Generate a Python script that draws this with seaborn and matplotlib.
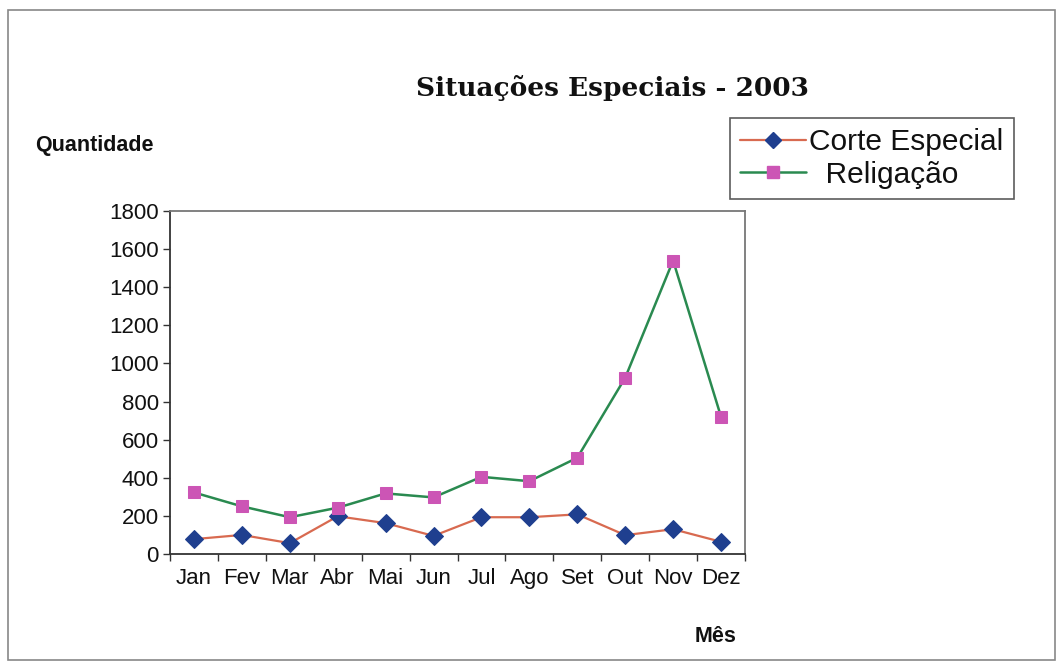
import matplotlib
matplotlib.use("Agg")
import matplotlib.pyplot as plt
from matplotlib.lines import Line2D
from matplotlib.patches import Rectangle
import numpy as np
import pandas as pd
import seaborn as sns

months = ["Jan", "Fev", "Mar", "Abr", "Mai", "Jun", "Jul", "Ago", "Set", "Out", "Nov", "Dez"]
corte_especial = [78, 100, 57, 198, 162, 95, 193, 193, 208, 99, 130, 64]
religacao = [323, 250, 193, 243, 318, 297, 405, 382, 505, 925, 1540, 720]
y_ticks = [0, 200, 400, 600, 800, 1000, 1200, 1400, 1600, 1800]

sns.set_theme(style="white")
plt.rcParams["font.family"] = ["Liberation Sans", "DejaVu Sans"]

fig = plt.figure(figsize=(10.6, 6.66), dpi=100)
ax = fig.add_axes([170 / 1060, 1 - 554 / 666, (745 - 170) / 1060, (554 - 211) / 666])

x = np.arange(len(months))
df = pd.DataFrame({"x": x, "corte": corte_especial, "relig": religacao})

sns.lineplot(data=df, x="x", y="corte", ax=ax, color="#d86a50", lw=1.6,
             marker="D", markersize=9, markerfacecolor="#1f3f8f",
             markeredgecolor="#1f3f8f")
sns.lineplot(data=df, x="x", y="relig", ax=ax, color="#2a8a50", lw=1.8,
             marker="s", markersize=9, markerfacecolor="#cc55b5",
             markeredgecolor="#cc55b5")

ax.set_xlim(-0.5, len(months) - 0.5)
ax.set_ylim(0, 1800)
ax.set_yticks(y_ticks)
ax.set_yticklabels([str(v) for v in y_ticks], fontsize=16, color="#111111")
ax.set_xticks(np.arange(-0.5, len(months)), labels=[""] * (len(months) + 1))
ax.set_xticks(x, labels=months, minor=True)
for lbl in ax.get_xticklabels(minor=True):
    lbl.set_color("#111111")
ax.tick_params(axis="x", which="major", direction="out", length=5, width=1, color="#333333", bottom=True)
ax.tick_params(axis="x", which="minor", length=0, labelsize=16, pad=10)
ax.tick_params(axis="y", direction="out", length=5, width=1, color="#333333", left=True, pad=3)
ax.set_xlabel("")
ax.set_ylabel("")
for side in ["left", "bottom"]:
    ax.spines[side].set_color("#333333")
    ax.spines[side].set_linewidth(1.3)
for side in ["top", "right"]:
    ax.spines[side].set_color("#777777")
    ax.spines[side].set_linewidth(1.3)

# Outer chart frame
fig.patches.append(Rectangle((8 / 1060, 6 / 666), 1047 / 1060, 650 / 666,
                             transform=fig.transFigure, fill=False,
                             edgecolor="#888888", lw=1.2))

fig.text(613 / 1060, 1 - 88 / 666, "Situações Especiais - 2003",
         family="DejaVu Serif", fontweight="heavy", fontsize=19,
         ha="center", va="center", color="#111111")
fig.text(35 / 1060, 1 - 145 / 666, "Quantidade", fontweight="bold",
         fontsize=15.5, ha="left", va="center", color="#111111")
fig.text(716 / 1060, 1 - 636 / 666, "Mês", fontweight="bold",
         fontsize=15.5, ha="center", va="center", color="#111111")

handles = [
    Line2D([], [], color="#d86a50", lw=1.6, marker="D", markersize=8,
           markerfacecolor="#1f3f8f", markeredgecolor="#1f3f8f"),
    Line2D([], [], color="#2a8a50", lw=1.8, marker="s", markersize=8,
           markerfacecolor="#cc55b5", markeredgecolor="#cc55b5"),
]
leg = fig.legend(handles, ["Corte Especial", "  Religação"],
                 loc="upper left", bbox_to_anchor=(730 / 1060, 1 - 118 / 666),
                 fontsize=21.5, frameon=True, fancybox=False, borderpad=0.35,
                 handlelength=2.2, handletextpad=0.1, labelspacing=0.15,
                 borderaxespad=0)
leg.get_frame().set_edgecolor("#333333")
leg.get_frame().set_linewidth(1.2)
for t in leg.get_texts():
    t.set_color("#111111")

fig.savefig("out.png", dpi=100, facecolor="white")
